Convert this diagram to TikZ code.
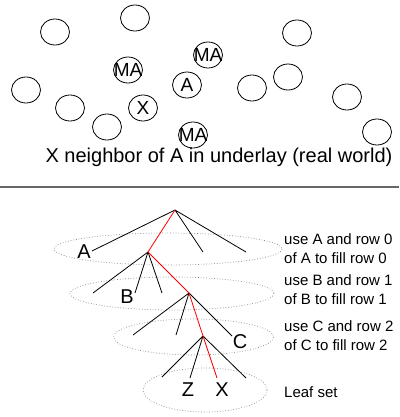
\documentclass[tikz,border=0pt]{standalone}
\usepackage{fontspec}
\setmainfont{Liberation Sans}
\usetikzlibrary{shapes.geometric}

\begin{document}
\begin{tikzpicture}[
    x=1pt, y=-1pt,
    peer/.style = {ellipse, draw, line width=0.8pt, minimum width=29pt, minimum height=26pt, inner sep=0pt},
    tag/.style = {label={[font=\fontsize{19}{19}\selectfont, inner sep=0pt]center:#1}},
    ring/.style = {gray, dotted, line width=0.7pt},
    br/.style = {black, line width=0.8pt},
    rt/.style = {red, line width=0.8pt},
    lbl/.style = {font=\fontsize{20}{20}\selectfont, inner sep=0pt},
    note/.style = {anchor=west, align=left, inner sep=0pt, font=\fontsize{15}{19}\selectfont}
    ]
  \useasboundingbox (0,0) rectangle (399,417);

  % underlay
  \node[peer] (p1) at (55,32) {};
  \node[peer] (p2) at (135,18) {};
  \node[peer] (p3) at (297,33) {};
  \node[peer, tag=MA] (ma1) at (128,70) {};
  \node[peer, tag=MA] (ma2) at (208,55) {};
  \node[peer, tag=A] (a) at (187,85) {};
  \node[peer] (p4) at (288,77) {};
  \node[peer] (p5) at (26,90) {};
  \node[peer] (p6) at (70,108) {};
  \node[peer, tag=X] (x) at (143,108) {};
  \node[peer] (p7) at (252,88) {};
  \node[peer] (p8) at (347,97) {};
  \node[peer] (p9) at (107,127) {};
  \node[peer, tag=MA] (ma3) at (193,135) {};
  \node[peer] (p10) at (377,132) {};

  \node[font=\fontsize{20}{20}\selectfont] (cap) at (219,157) {X neighbor of A in underlay (real world)};

  \draw[gray!80!black, line width=2pt] (0,187) -- (399,187);

  % overlay rows
  \draw[ring] (168,249) ellipse (114 and 16);
  \draw[ring] (172,293.5) ellipse (102 and 16.5);
  \draw[ring] (193.5,337) ellipse (80 and 18);
  \draw[ring] (205,390) ellipse (62 and 22);

  \coordinate (root) at (175,210);
  \coordinate (r0a) at (92,251);
  \coordinate (nb) at (148,252);
  \coordinate (r0c) at (203,252);
  \coordinate (r0d) at (246,252);
  \coordinate (r1a) at (93,293);
  \coordinate (r1b) at (135,293);
  \coordinate (r1c) at (162,293);
  \coordinate (nc) at (189,293);
  \coordinate (r2a) at (133,335);
  \coordinate (r2b) at (176,335);
  \coordinate (nx) at (203,336);
  \coordinate (r2d) at (232,336);
  \coordinate (r3a) at (162,377);
  \coordinate (r3b) at (190,378);
  \coordinate (r3c) at (217,378);
  \coordinate (r3d) at (246,378);

  \node[lbl] (la) at (84,251.5) {A};
  \node[lbl] (lb) at (127,297) {B};
  \node[lbl] (lc) at (240,342) {C};
  \node[lbl] (lz) at (188,390) {Z};
  \node[lbl] (lx) at (222,390) {X};

  \draw[br] (root) -- (r0a) (root) -- (r0c) (root) -- (r0d)
    (nb) -- (r1a) (nb) -- (r1b) (nb) -- (r1c)
    (nc) -- (r2a) (nc) -- (r2b) (nc) -- (r2d)
    (nx) -- (r3a) (nx) -- (r3b) (nx) -- (r3d);
  \draw[rt] (root) -- (nb) -- (nc) -- (nx) -- (r3c);

  \node[note] (n0) at (284,248.5) {use A and row 0\\of A to fill row 0};
  \node[note] (n1) at (284,289.5) {use B and row 1\\of B to fill row 1};
  \node[note] (n2) at (284,336) {use C and row 2\\of C to fill row 2};
  \node[note] (n3) at (284,392) {Leaf set};

\end{tikzpicture}
\end{document}
